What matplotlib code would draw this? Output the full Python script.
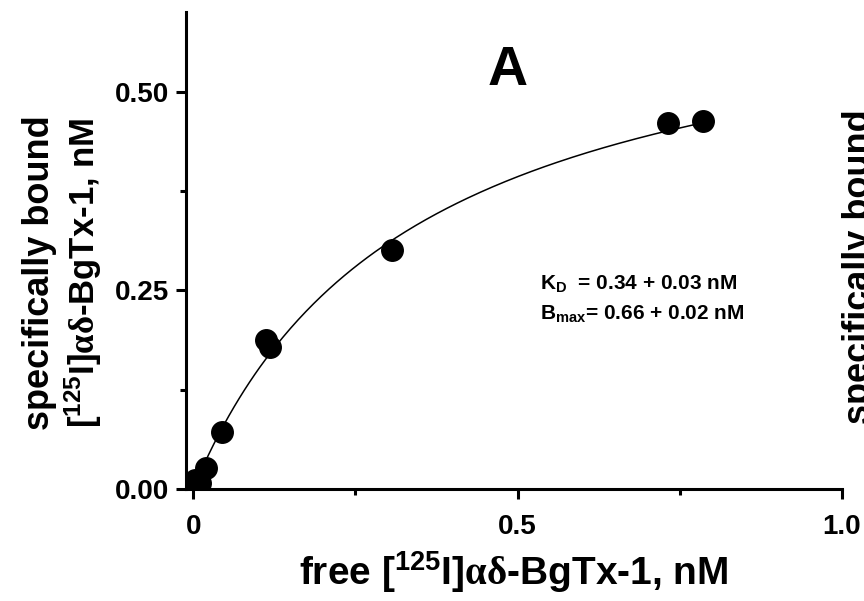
import matplotlib
matplotlib.use("Agg")
import matplotlib.pyplot as plt
import numpy as np

plt.rcParams["font.family"] = ["Liberation Sans", "DejaVu Sans"]
plt.rcParams["font.weight"] = "bold"
plt.rcParams["mathtext.fontset"] = "custom"
plt.rcParams["mathtext.rm"] = "Liberation Sans:bold"
plt.rcParams["mathtext.sf"] = "Liberation Serif"
plt.rcParams["mathtext.default"] = "rm"

# measured binding points (free, bound), nM
free_nM = [0.003, 0.011, 0.020, 0.044, 0.112, 0.118, 0.306, 0.732, 0.786]
bound_nM = [0.011, 0.008, 0.026, 0.072, 0.187, 0.178, 0.301, 0.461, 0.463]

# fitted saturation parameters
kd = 0.34
bmax = 0.66

x_ticks = [0, 0.5, 1.0]
x_labels = ["0", "0.5", "1.0"]
y_ticks = [0.0, 0.25, 0.50]
y_labels = ["0.00", "0.25", "0.50"]

fig = plt.figure(figsize=(8.64, 6.01), dpi=100)
ax = fig.add_axes([0.2153, 0.1864, 0.7592, 0.7936])

xfit = np.linspace(0, max(free_nM), 200)
ax.plot(xfit, bmax * xfit / (kd + xfit), color="black", lw=1.1, zorder=2)
ax.plot(free_nM, bound_nM, "o", color="black", ms=15.5, zorder=3)

ax.set_xlim(-0.011, 1.0)
ax.set_ylim(0, 0.6)
ax.spines["top"].set_visible(False)
ax.spines["right"].set_visible(False)
for s in ("left", "bottom"):
    ax.spines[s].set_linewidth(2.2)

ax.set_xticks(x_ticks)
ax.set_xticklabels(x_labels)
ax.set_yticks(y_ticks)
ax.set_yticklabels(y_labels)
ax.set_xticks([0.25, 0.75], minor=True)
ax.set_yticks([0.125, 0.375], minor=True)
ax.tick_params(which="major", direction="out", length=7, width=2.2,
               labelsize=20)
ax.tick_params(axis="x", which="major", pad=11)
ax.tick_params(axis="y", which="major", pad=5)
ax.tick_params(which="minor", direction="out", length=4, width=2.2)
for lab in ax.get_xticklabels() + ax.get_yticklabels():
    lab.set_fontweight("bold")

ax.set_xlabel("free [$^{125}$I]$\\mathsf{αδ}$-BgTx-1, nM", fontsize=28,
              fontweight="bold", labelpad=7)

fig.text(0.046, 0.547, "specifically bound", rotation=90, fontsize=26,
         fontweight="bold", ha="center", va="center")
fig.text(0.096, 0.547, "[$^{125}$I]$\\mathsf{αδ}$-BgTx-1, nM", rotation=90,
         fontsize=25, fontweight="bold", ha="center", va="center")

ax.text(0.484, 0.526, "A", fontsize=40, fontweight="bold",
        ha="center", va="center")
ax.text(0.535, 0.257, "K$_\\mathregular{D}$  = 0.34 + 0.03 nM", fontsize=15,
        fontweight="bold", ha="left", va="center")
ax.text(0.535, 0.220, "B$_\\mathregular{max}$= 0.66 + 0.02 nM", fontsize=15,
        fontweight="bold", ha="left", va="center")

# neighbouring panel's label, cut by the figure edge
fig.text(0.995, 0.556, "specifically bound", rotation=90, fontsize=26,
         fontweight="bold", ha="center", va="center")

fig.savefig("out.png", dpi=100)
